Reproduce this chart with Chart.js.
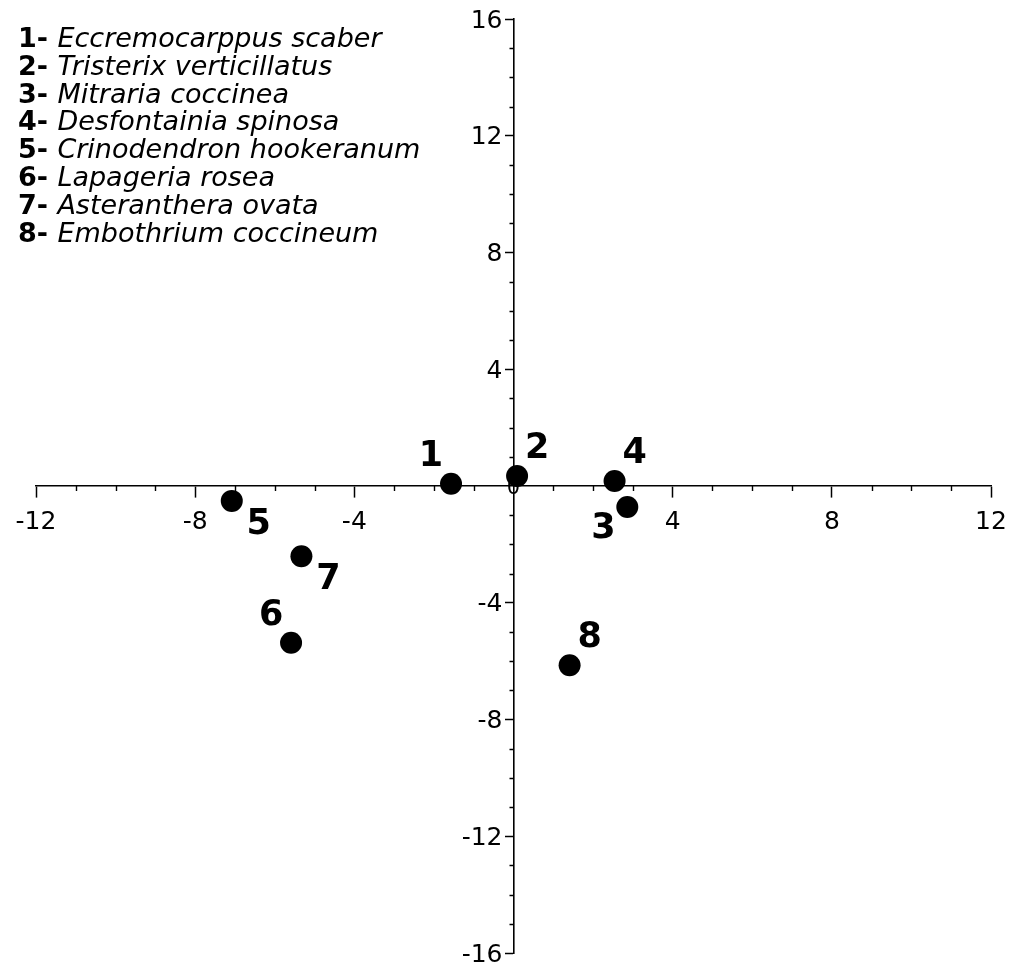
<!DOCTYPE html>
<html lang="en">

<head>
  <meta charset="UTF-8">
  <title>Species ordination</title>
  <script src="https://cdn.jsdelivr.net/npm/chart.js"></script>
  <style>
    html, body { margin: 0; padding: 0; background: #fff; }
    #wrap { width: 1013px; height: 967px; }
  </style>
</head>

<body>
  <div id="wrap"><canvas id="ordChart"></canvas></div>

  <script>
    // Species and their scores on the two ordination axes
    const speciesIds = ['1', '2', '3', '4', '5', '6', '7', '8'];
    const speciesNames = [
      'Eccremocarppus scaber',
      'Tristerix verticillatus',
      'Mitraria coccinea',
      'Desfontainia spinosa',
      'Crinodendron hookeranum',
      'Lapageria rosea',
      'Asteranthera ovata',
      'Embothrium coccineum'
    ];
    const axis1Scores = [-1.57, 0.09, 2.86, 2.54, -7.08, -5.59, -5.33, 1.41];
    const axis2Scores = [0.08, 0.34, -0.72, 0.17, -0.51, -5.37, -2.41, -6.14];

    const xTickValues = [-12, -8, -4, 4, 8, 12];
    const yTickValues = [-16, -12, -8, -4, 4, 8, 12, 16];

    // which side of the dot each number sits on
    const labelSide = ['nw', 'ne', 'sw', 'ne', 'se', 'nw', 'se', 'ne'];
    const sideOffset = {
      ne: [20, -27],
      nw: [-20, -27],
      se: [27, 24],
      sw: [-24, 22]
    };

    const FONT = 'DejaVu Sans';

    // minor ticks, tick labels beside the crossing axes, the "0",
    // the numbers beside each dot and the species key
    const axisExtras = {
      id: 'axisExtras',
      beforeDatasetsDraw(chart) {
        const { ctx, scales: { x, y } } = chart;
        const x0 = x.getPixelForValue(0);
        const y0 = y.getPixelForValue(0);
        ctx.save();
        ctx.strokeStyle = '#000';
        ctx.lineWidth = 1.4;
        ctx.beginPath();
        for (let v = Math.ceil(x.min); v <= x.max; v++) {
          if (v % 4 === 0) continue;
          const px = Math.round(x.getPixelForValue(v)) + 0.5;
          ctx.moveTo(px, y0);
          ctx.lineTo(px, y0 + 5);
        }
        for (let v = Math.ceil(y.min); v <= y.max; v++) {
          if (v % 4 === 0) continue;
          const py = Math.round(y.getPixelForValue(v)) + 0.5;
          ctx.moveTo(x0, py);
          ctx.lineTo(x0 - 4, py);
        }
        ctx.stroke();

        ctx.fillStyle = '#000';
        ctx.font = '25px "' + FONT + '"';
        ctx.textBaseline = 'middle';
        ctx.textAlign = 'right';
        yTickValues.forEach(v => {
          ctx.fillText(String(v), x0 - 11, y.getPixelForValue(v) + 2);
        });
        ctx.textAlign = 'center';
        xTickValues.forEach(v => {
          ctx.fillText(String(v), x.getPixelForValue(v), y0 + 36);
        });

        ctx.font = '21px "' + FONT + '"';
        ctx.fillText('0', x0, y0 + 3);
        ctx.restore();
      },
      afterDatasetsDraw(chart) {
        const { ctx } = chart;
        const pts = chart.getDatasetMeta(0).data;
        ctx.save();
        ctx.fillStyle = '#000';
        ctx.font = 'bold 35px "' + FONT + '"';
        ctx.textAlign = 'center';
        ctx.textBaseline = 'middle';
        pts.forEach((pt, i) => {
          const [dx, dy] = sideOffset[labelSide[i]];
          ctx.fillText(speciesIds[i], pt.x + dx, pt.y + dy);
        });

        // species key, top left
        ctx.textAlign = 'left';
        ctx.textBaseline = 'alphabetic';
        speciesNames.forEach((name, i) => {
          const tx = 18;
          const ty = 47 + i * 27.8;
          ctx.font = 'bold 27px "' + FONT + '"';
          const head = speciesIds[i] + '-';
          ctx.fillText(head, tx, ty);
          const w = ctx.measureText(head + ' ').width;
          ctx.font = 'italic 27px "' + FONT + '"';
          ctx.fillText(name, tx + w, ty);
        });
        ctx.restore();
      }
    };

    const ctx = document.getElementById('ordChart').getContext('2d');
    new Chart(ctx, {
      type: 'scatter',
      data: {
        datasets: [{
          data: axis1Scores.map((v, i) => ({ x: v, y: axis2Scores[i] })),
          backgroundColor: '#000',
          borderWidth: 0,
          pointRadius: 11,
          pointHoverRadius: 11
        }]
      },
      options: {
        responsive: true,
        maintainAspectRatio: false,
        animation: false,
        events: [],
        layout: { padding: { left: 36, right: 22, top: 19, bottom: 14 } },
        plugins: {
          legend: { display: false },
          tooltip: { enabled: false }
        },
        scales: {
          x: {
            type: 'linear',
            min: -12,
            max: 12,
            position: { y: 0 },
            afterBuildTicks: (scale) => {
              scale.ticks = xTickValues.map(v => ({ value: v }));
            },
            grid: { drawOnChartArea: false, drawTicks: true, tickLength: 11, tickWidth: 1.5, tickColor: '#000' },
            border: { color: '#000', width: 1.6 },
            ticks: { display: false, padding: 0 }
          },
          y: {
            type: 'linear',
            min: -16,
            max: 16,
            position: { x: 0 },
            afterBuildTicks: (scale) => {
              scale.ticks = yTickValues.map(v => ({ value: v }));
            },
            grid: { drawOnChartArea: false, drawTicks: true, tickLength: 8, tickWidth: 1.5, tickColor: '#000' },
            border: { color: '#000', width: 1.6 },
            ticks: { display: false, padding: 0 }
          }
        }
      },
      plugins: [axisExtras]
    });
  </script>
</body>

</html>
